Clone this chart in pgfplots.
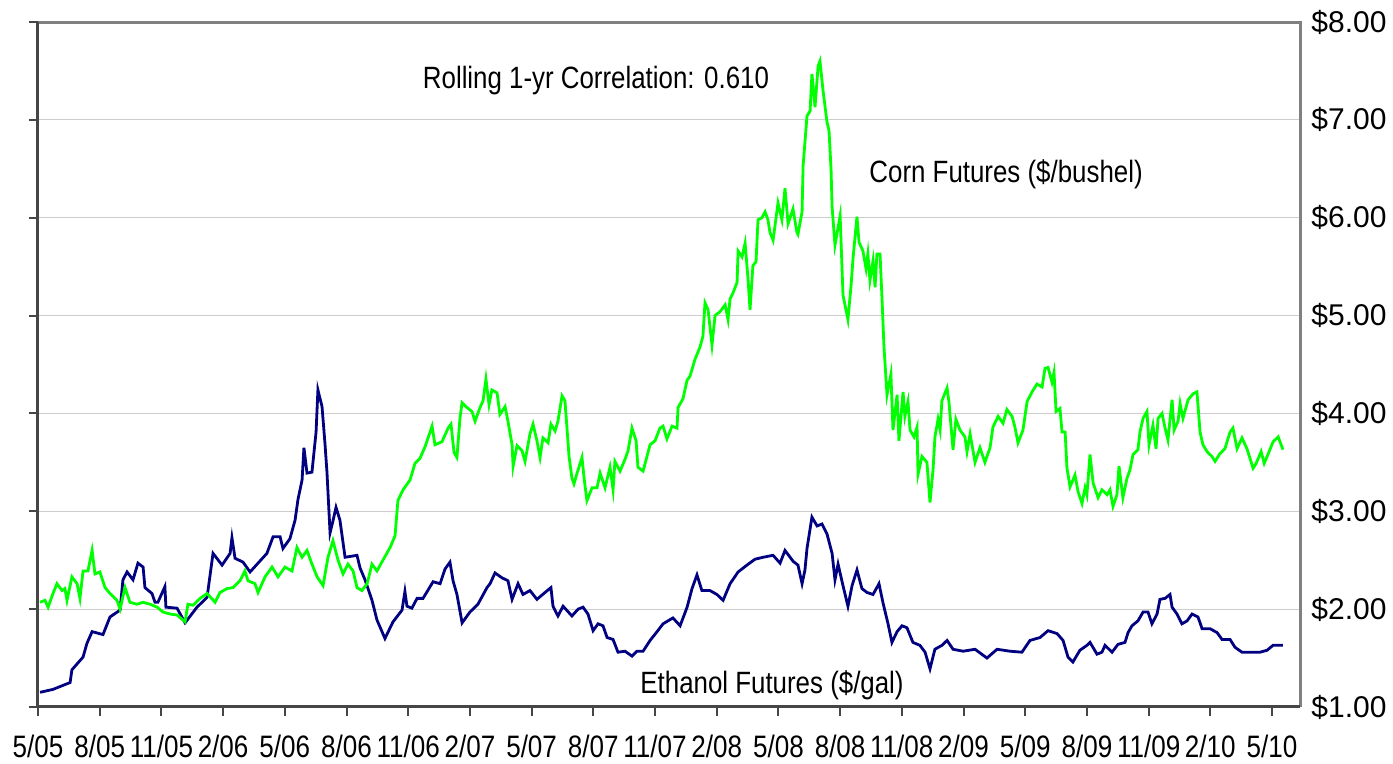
\documentclass[border=0pt]{standalone}
\usepackage{fontspec}
\setmainfont{Liberation Sans}
\newfontfamily\narrowfont{Liberation Sans}[FakeStretch=0.84]
\usepackage{pgfplots}
\pgfplotsset{compat=1.18}
\definecolor{corn}{RGB}{0,255,0}
\definecolor{eth}{RGB}{0,0,128}
\definecolor{gridc}{RGB}{205,205,205}
\definecolor{frameg}{RGB}{128,128,128}
\definecolor{framed}{RGB}{70,70,70}
\begin{document}
\begin{tikzpicture}
\useasboundingbox (0,0) rectangle (696.5pt,382pt);
\begin{axis}[
  at={(19pt,28.5pt)}, anchor=south west,
  scale only axis, width=631pt, height=342.5pt,
  xmin=0, xmax=61.36, ymin=1, ymax=8,
  xtick={0,3,...,60},
  xticklabels={5/05,8/05,11/05,2/06,5/06,8/06,11/06,2/07,5/07,8/07,11/07,2/08,5/08,8/08,11/08,2/09,5/09,8/09,11/09,2/10,5/10},
  ytick={1,2,3,4,5,6,7,8},
  yticklabels={\$1.00,\$2.00,\$3.00,\$4.00,\$5.00,\$6.00,\$7.00,\$8.00},
  xtick pos=bottom, ytick pos=left, yticklabel pos=right,
  tick align=outside, major tick length=4.5pt,
  tick style={framed, line width=1pt},
  axis line style={draw=none},
  ymajorgrids, grid style={gridc, line width=0.6pt},
  xticklabel style={font=\narrowfont\fontsize{15.5}{18}\selectfont, anchor=north, inner sep=0pt, yshift=-9.5pt},
  yticklabel style={font=\fontsize{15}{18}\selectfont, anchor=west, inner sep=0pt, xshift=1pt},
  clip=false,
]
% Ethanol futures ($/gal)
\addplot[eth, line width=1.4pt] coordinates {
(0.10,1.15) (0.73,1.18) (1.56,1.25) (1.65,1.38) (2.19,1.51) (2.38,1.65) (2.63,1.77) (3.16,1.74)
(3.50,1.92) (3.99,1.99) (4.13,2.30) (4.33,2.38) (4.62,2.30) (4.86,2.47) (5.11,2.43) (5.20,2.22)
(5.54,2.16) (5.69,2.07) (5.83,2.07) (6.17,2.23) (6.22,2.02) (6.76,2.01) (7.15,1.86) (7.73,2.02)
(8.22,2.12) (8.51,2.57) (8.95,2.45) (9.34,2.57) (9.43,2.73) (9.58,2.52) (9.97,2.48) (10.31,2.38)
(11.13,2.57) (11.43,2.74) (11.77,2.74) (11.91,2.62) (12.25,2.72) (12.50,2.91) (12.64,3.12) (12.84,3.32)
(12.93,3.65) (13.08,3.39) (13.32,3.40) (13.52,3.81) (13.61,4.24) (13.81,4.07) (13.95,3.70) (14.05,3.40)
(14.20,2.78) (14.34,2.90) (14.49,3.04) (14.68,2.91) (14.93,2.53) (15.51,2.55) (15.66,2.42) (15.90,2.30)
(16.24,2.09) (16.48,1.89) (16.87,1.70) (17.26,1.87) (17.70,1.99) (17.84,2.18) (17.94,2.03) (18.18,2.01)
(18.43,2.11) (18.72,2.11) (19.21,2.28) (19.55,2.26) (19.79,2.41) (20.03,2.48) (20.18,2.29) (20.37,2.15)
(20.62,1.86) (21.00,1.97) (21.39,2.05) (21.83,2.22) (21.98,2.26) (22.22,2.37) (22.56,2.32) (22.85,2.29)
(23.05,2.10) (23.34,2.26) (23.58,2.15) (23.92,2.19) (24.26,2.10) (24.65,2.17) (24.94,2.22) (25.04,2.03)
(25.28,1.93) (25.53,2.03) (25.96,1.93) (26.26,2.00) (26.50,2.02) (26.74,1.95) (26.99,1.78) (27.23,1.85)
(27.47,1.83) (27.67,1.71) (27.96,1.69) (28.20,1.56) (28.54,1.57) (28.88,1.52) (29.12,1.57) (29.42,1.57)
(29.76,1.68) (30.10,1.77) (30.39,1.85) (30.87,1.91) (31.22,1.83) (31.56,2.02) (31.80,2.21) (32.04,2.35)
(32.28,2.19) (32.67,2.19) (33.01,2.15) (33.31,2.09) (33.65,2.26) (34.04,2.38) (34.47,2.45) (34.86,2.51)
(35.25,2.53) (35.74,2.55) (36.08,2.47) (36.32,2.60) (36.71,2.49) (36.95,2.45) (37.15,2.26) (37.29,2.40)
(37.39,2.62) (37.63,2.94) (37.88,2.85) (38.12,2.87) (38.36,2.77) (38.61,2.57) (38.75,2.30) (38.90,2.46)
(39.14,2.24) (39.38,2.03) (39.58,2.24) (39.82,2.40) (40.06,2.21) (40.31,2.17) (40.60,2.15) (40.89,2.26)
(41.09,2.06) (41.33,1.85) (41.52,1.66) (41.77,1.77) (42.01,1.83) (42.25,1.81) (42.54,1.66) (42.88,1.63)
(43.13,1.56) (43.37,1.39) (43.61,1.59) (43.95,1.63) (44.20,1.68) (44.49,1.59) (44.98,1.57) (45.56,1.59)
(46.14,1.50) (46.63,1.59) (47.26,1.57) (47.84,1.56) (48.23,1.68) (48.72,1.71) (49.11,1.78) (49.55,1.75)
(49.84,1.68) (50.08,1.51) (50.32,1.46) (50.66,1.58) (51.00,1.63) (51.15,1.66) (51.49,1.54) (51.73,1.56)
(51.88,1.63) (52.22,1.56) (52.51,1.64) (52.85,1.66) (53.00,1.76) (53.19,1.83) (53.48,1.88) (53.73,1.97)
(53.97,1.97) (54.16,1.85) (54.41,1.95) (54.55,2.10) (54.80,2.11) (55.04,2.15) (55.14,2.02) (55.38,1.95)
(55.62,1.85) (55.87,1.88) (56.11,1.95) (56.40,1.92) (56.60,1.80) (56.99,1.80) (57.33,1.76) (57.57,1.69)
(57.96,1.69) (58.20,1.61) (58.54,1.56) (58.93,1.56) (59.42,1.56) (59.76,1.58) (60.05,1.63) (60.53,1.63)
};
% Corn futures ($/bushel)
\addplot[corn, line width=1.4pt] coordinates {
(0.10,2.07) (0.34,2.09) (0.49,2.02) (0.73,2.16) (0.92,2.26) (1.17,2.19) (1.31,2.21) (1.41,2.09)
(1.65,2.33) (1.90,2.26) (2.04,2.11) (2.19,2.39) (2.43,2.39) (2.63,2.60) (2.77,2.36) (3.01,2.38)
(3.26,2.22) (3.50,2.16) (3.84,2.09) (3.99,2.00) (4.23,2.22) (4.47,2.07) (4.81,2.05) (5.11,2.07)
(5.45,2.05) (5.79,2.02) (6.08,1.97) (6.42,1.95) (6.76,1.94) (7.15,1.87) (7.29,2.05) (7.54,2.04)
(7.88,2.11) (8.22,2.16) (8.61,2.07) (8.85,2.17) (9.19,2.21) (9.48,2.22) (9.82,2.29) (10.06,2.39)
(10.21,2.29) (10.55,2.26) (10.70,2.17) (11.04,2.33) (11.38,2.43) (11.67,2.33) (12.01,2.43) (12.35,2.39)
(12.59,2.63) (12.84,2.53) (13.08,2.60) (13.32,2.46) (13.57,2.33) (13.86,2.24) (14.10,2.53) (14.34,2.70)
(14.59,2.50) (14.83,2.36) (15.07,2.46) (15.32,2.39) (15.51,2.22) (15.75,2.19) (16.00,2.26) (16.24,2.46)
(16.48,2.39) (16.77,2.50) (17.12,2.63) (17.36,2.75) (17.50,3.11) (17.75,3.22) (18.09,3.32) (18.33,3.49)
(18.57,3.54) (18.82,3.66) (19.16,3.87) (19.30,3.68) (19.64,3.71) (19.94,3.85) (20.08,3.89) (20.23,3.60)
(20.37,3.55) (20.52,3.96) (20.62,4.11) (20.86,4.06) (21.10,4.02) (21.25,3.92) (21.49,4.06) (21.64,4.13)
(21.78,4.35) (21.93,4.09) (22.07,4.24) (22.32,4.21) (22.46,3.99) (22.71,4.07) (22.85,3.92) (23.05,3.68)
(23.10,3.46) (23.29,3.67) (23.53,3.62) (23.68,3.51) (23.92,3.79) (24.07,3.89) (24.26,3.72) (24.41,3.55)
(24.55,3.75) (24.80,3.70) (24.94,3.89) (25.14,3.82) (25.28,3.92) (25.48,4.18) (25.62,4.13) (25.72,3.85)
(25.82,3.56) (25.96,3.34) (26.06,3.28) (26.21,3.39) (26.45,3.55) (26.55,3.34) (26.69,3.11) (26.94,3.24)
(27.18,3.24) (27.33,3.39) (27.57,3.24) (27.81,3.45) (27.96,3.22) (28.05,3.51) (28.30,3.41) (28.54,3.53)
(28.69,3.62) (28.88,3.85) (29.08,3.72) (29.17,3.45) (29.42,3.41) (29.76,3.68) (30.00,3.72) (30.24,3.85)
(30.39,3.87) (30.58,3.74) (30.83,3.87) (31.07,3.85) (31.12,4.06) (31.36,4.15) (31.56,4.34) (31.70,4.38)
(31.94,4.55) (32.19,4.68) (32.33,4.79) (32.43,5.13) (32.58,5.06) (32.77,4.70) (32.92,5.00) (33.16,5.04)
(33.41,5.11) (33.55,4.96) (33.65,5.17) (33.79,5.23) (33.99,5.34) (34.04,5.66) (34.23,5.60) (34.38,5.74)
(34.52,5.38) (34.62,5.06) (34.76,5.51) (34.91,5.55) (35.01,5.98) (35.20,6.00) (35.35,6.06) (35.49,5.98)
(35.59,5.85) (35.74,5.77) (35.98,6.15) (36.17,5.98) (36.32,6.30) (36.47,5.94) (36.71,6.09) (36.90,5.85)
(36.95,5.83) (37.15,6.06) (37.20,6.53) (37.39,7.04) (37.54,7.09) (37.63,7.47) (37.78,7.13) (37.93,7.55)
(38.02,7.60) (38.17,7.30) (38.36,6.98) (38.46,6.89) (38.56,6.49) (38.61,6.11) (38.75,5.72) (39.00,6.02)
(39.14,5.21) (39.38,4.96) (39.53,5.30) (39.63,5.59) (39.72,5.79) (39.82,6.01) (39.92,5.75) (40.11,5.66)
(40.26,5.48) (40.35,5.63) (40.45,5.36) (40.60,5.56) (40.70,5.29) (40.79,5.63) (40.94,5.63) (41.04,5.16)
(41.13,4.69) (41.28,4.19) (41.47,4.40) (41.57,3.83) (41.77,4.19) (41.86,3.72) (42.06,4.22) (42.15,3.97)
(42.30,4.12) (42.40,3.83) (42.59,3.76) (42.74,3.86) (42.79,3.38) (42.98,3.56) (43.22,3.50) (43.37,3.09)
(43.52,3.43) (43.61,3.76) (43.76,3.94) (43.86,3.83) (43.95,4.13) (44.20,4.26) (44.29,4.12) (44.49,3.63)
(44.63,3.94) (44.83,3.83) (45.07,3.76) (45.17,3.61) (45.32,3.79) (45.56,3.50) (45.80,3.65) (46.04,3.50)
(46.29,3.65) (46.43,3.86) (46.68,3.97) (46.92,3.90) (47.11,4.04) (47.36,3.97) (47.50,3.86) (47.65,3.70)
(47.89,3.83) (48.09,4.12) (48.33,4.22) (48.57,4.30) (48.82,4.27) (48.96,4.46) (49.11,4.47) (49.30,4.32)
(49.40,4.42) (49.50,4.02) (49.69,4.05) (49.79,3.81) (49.94,3.81) (50.03,3.44) (50.18,3.25) (50.42,3.37)
(50.57,3.20) (50.76,3.08) (50.91,3.24) (51.00,3.17) (51.15,3.58) (51.30,3.29) (51.54,3.14) (51.73,3.22)
(51.98,3.17) (52.12,3.22) (52.27,3.05) (52.46,3.17) (52.56,3.46) (52.75,3.14) (52.95,3.34) (53.09,3.42)
(53.24,3.58) (53.48,3.63) (53.58,3.81) (53.73,3.95) (53.92,4.02) (54.02,3.68) (54.21,3.88) (54.36,3.64)
(54.46,3.95) (54.65,4.00) (54.80,3.85) (54.94,3.73) (55.14,4.14) (55.24,3.83) (55.43,3.92) (55.53,4.10)
(55.67,3.95) (55.92,4.14) (56.16,4.20) (56.35,4.22) (56.50,3.81) (56.64,3.68) (56.84,3.61) (57.08,3.56)
(57.23,3.51) (57.47,3.59) (57.71,3.64) (57.96,3.81) (58.10,3.85) (58.30,3.64) (58.54,3.75) (58.78,3.64)
(58.93,3.54) (59.08,3.44) (59.23,3.49) (59.47,3.61) (59.62,3.49) (59.86,3.61) (60.05,3.71) (60.30,3.76)
(60.53,3.63)
};
\draw[frameg, line width=1.5pt] (rel axis cs:0,1) -- (rel axis cs:1,1) -- (rel axis cs:1,0);
\draw[framed, line width=1.5pt] (rel axis cs:1,0) -- (rel axis cs:0,0) -- (rel axis cs:0,1);
\node[font=\narrowfont\fontsize{15.4}{18}\selectfont] at (axis cs:27.13,7.40) {Rolling 1-yr Correlation: 0.610};
\node[font=\narrowfont\fontsize{15.4}{18}\selectfont] at (axis cs:47.07,6.44) {Corn Futures (\$/bushel)};
\node[font=\narrowfont\fontsize{15.4}{18}\selectfont] at (axis cs:35.69,1.22) {Ethanol Futures (\$/gal)};
\end{axis}
\end{tikzpicture}
\end{document}
